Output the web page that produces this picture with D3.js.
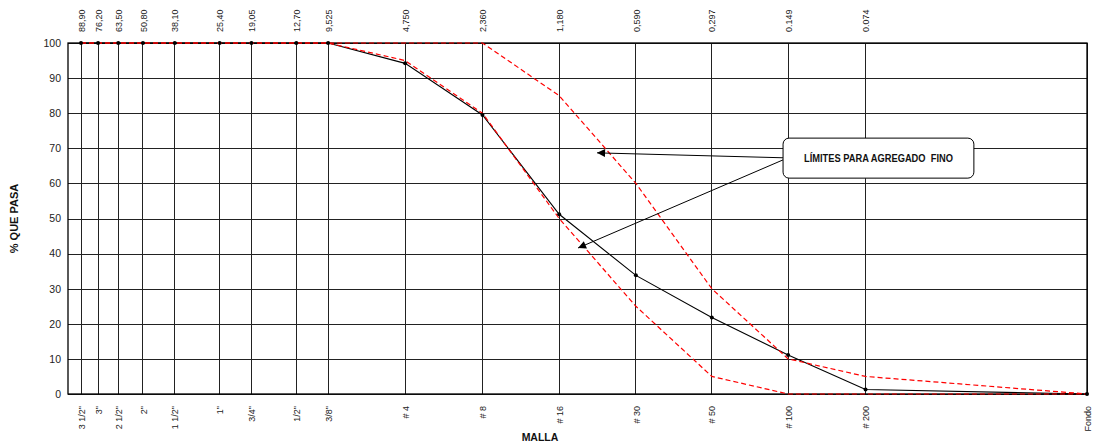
<!DOCTYPE html>
<html>
<head>
<meta charset="utf-8">
<script src="https://cdn.jsdelivr.net/npm/d3@7"></script>
<style>
  html, body { margin: 0; padding: 0; background: #fff; }
  svg { display: block; font-family: "Liberation Sans", Arial, sans-serif; }
</style>
</head>
<body>
<div id="chart"></div>
<script>
// ---- Data ----
// Sieve openings (mm); "Fondo" (pan) placed at the conventional 0.01 position
const sieveSizes = [88.9, 76.2, 63.5, 50.8, 38.1, 25.4, 19.05, 12.7, 9.525, 4.75, 2.36, 1.18, 0.59, 0.297, 0.149, 0.074, 0.01];
const topLabels = ["88,90", "76,20", "63,50", "50,80", "38,10", "25,40", "19,05", "12,70", "9,525", "4,750", "2,360", "1,180", "0,590", "0,297", "0.149", "0.074", ""];
const sieveNames = ["3 1/2\"", "3\"", "2 1/2\"", "2\"", "1 1/2\"", "1\"", "3/4\"", "1/2\"", "3/8\"", "# 4", "# 8", "# 16", "# 30", "# 50", "# 100", "# 200", "Fondo"];
const samplePassing = [100, 100, 100, 100, 100, 100, 100, 100, 100, 94.2, 79.5, 51.2, 33.8, 21.8, 11.1, 1.3, 0];
const upperLimit = [100, 100, 100, 100, 100, 100, 100, 100, 100, 100, 100, 85, 60, 30, 10, 5, 0];
const lowerLimit = [100, 100, 100, 100, 100, 100, 100, 100, 100, 95, 80, 50, 25, 5, 0, 0, 0];
const yTicks = [0, 10, 20, 30, 40, 50, 60, 70, 80, 90, 100];
const annotationText = "LÍMITES PARA AGREGADO  FINO";
// annotation anchors in data coordinates: [sieve size, % passing]
const annotationBox = [[0.156, 72.9], [0.0278, 61.5]];
const arrowTips = [[0.838, 68.7], [0.995, 41.6]];
const arrowStarts = [[0.156, 67.3], [0.156, 66.7]];

// ---- Layout ----
const W = 1094, H = 446;
const m = { left: 68, right: 7, top: 43, bottom: 52 };
const iw = W - m.left - m.right, ih = H - m.top - m.bottom;

const svg = d3.select("#chart").append("svg").attr("width", W).attr("height", H);
const g = svg.append("g").attr("transform", `translate(${m.left},${m.top})`);

const x = d3.scaleLog().domain([100, 0.01]).range([0, iw]);
const y = d3.scaleLinear().domain([0, 100]).range([ih, 0]);

// Horizontal grid + y labels
const yAxis = g.append("g")
  .call(d3.axisLeft(y).tickValues(yTicks).tickSize(-iw).tickPadding(7));
yAxis.select(".domain").remove();
yAxis.selectAll("line").attr("stroke", "#222").attr("shape-rendering", "crispEdges");
yAxis.selectAll("text").attr("font-size", "10.5px").attr("fill", "#222")
  .attr("font-family", "'Liberation Sans', Arial, sans-serif");

// Vertical grid lines
g.append("g").selectAll("line").data(sieveSizes).join("line")
  .attr("x1", d => x(d)).attr("x2", d => x(d))
  .attr("y1", 0).attr("y2", ih)
  .attr("stroke", "#222")
  .attr("stroke-width", (d, i) => i === 10 ? 1.6 : 1)
  .attr("shape-rendering", "crispEdges");

// Frame
g.append("rect").attr("x", 0).attr("y", 0).attr("width", iw).attr("height", ih)
  .attr("fill", "none").attr("stroke", "#000").attr("stroke-width", 1.3);

// Top axis labels (sizes)
const topAxis = g.append("g")
  .call(d3.axisTop(x).tickValues(sieveSizes).tickFormat((d, i) => topLabels[i]).tickSize(0));
topAxis.select(".domain").remove();
topAxis.selectAll("text")
  .attr("transform", "rotate(-90)")
  .attr("x", 11).attr("y", 0).attr("dy", "0.35em")
  .style("text-anchor", "start")
  .attr("font-size", "9px").attr("fill", "#222")
  .attr("font-family", "'Liberation Sans', Arial, sans-serif");

// Bottom axis labels (sieve names)
const botAxis = g.append("g").attr("transform", `translate(0,${ih})`)
  .call(d3.axisBottom(x).tickValues(sieveSizes).tickFormat((d, i) => sieveNames[i]).tickSize(0));
botAxis.select(".domain").remove();
botAxis.selectAll("text")
  .attr("transform", "rotate(-90)")
  .attr("x", -12).attr("y", 0).attr("dy", "0.35em")
  .style("text-anchor", "end")
  .attr("font-size", "9px").attr("fill", "#222")
  .attr("font-family", "'Liberation Sans', Arial, sans-serif");

// Lines
const lineGen = vals => d3.line().x((d, i) => x(sieveSizes[i])).y(d => y(d))(vals);

g.append("path").attr("d", lineGen(samplePassing))
  .attr("fill", "none").attr("stroke", "#000").attr("stroke-width", 1.1);

g.append("path").attr("d", lineGen(upperLimit))
  .attr("fill", "none").attr("stroke", "#ff0000").attr("stroke-width", 1.2)
  .attr("stroke-dasharray", "5,3");
g.append("path").attr("d", lineGen(lowerLimit))
  .attr("fill", "none").attr("stroke", "#ff0000").attr("stroke-width", 1.2)
  .attr("stroke-dasharray", "5,3");

g.append("g").selectAll("circle").data(samplePassing).join("circle")
  .attr("cx", (d, i) => x(sieveSizes[i])).attr("cy", d => y(d))
  .attr("r", 2).attr("fill", "#000");

// Annotation
svg.append("defs").append("marker")
  .attr("id", "arr").attr("viewBox", "0 0 10 10").attr("refX", 10).attr("refY", 5)
  .attr("markerWidth", 10).attr("markerHeight", 8).attr("markerUnits", "userSpaceOnUse")
  .attr("orient", "auto")
  .append("path").attr("d", "M0,0 L10,5 L0,10 Z").attr("fill", "#000");

g.append("g").selectAll("line").data(arrowTips).join("line")
  .attr("x1", (d, i) => x(arrowStarts[i][0])).attr("y1", (d, i) => y(arrowStarts[i][1]))
  .attr("x2", d => x(d[0])).attr("y2", d => y(d[1]))
  .attr("stroke", "#000").attr("stroke-width", 1)
  .attr("marker-end", "url(#arr)");

const bx0 = x(annotationBox[0][0]), bx1 = x(annotationBox[1][0]);
const by0 = y(annotationBox[0][1]), by1 = y(annotationBox[1][1]);
g.append("rect")
  .attr("x", bx0).attr("y", by0).attr("width", bx1 - bx0).attr("height", by1 - by0)
  .attr("rx", 6).attr("ry", 6)
  .attr("fill", "#fff").attr("stroke", "#000").attr("stroke-width", 1);
g.append("text")
  .attr("x", (bx0 + bx1) / 2).attr("y", (by0 + by1) / 2).attr("dy", "0.35em")
  .attr("text-anchor", "middle")
  .attr("font-size", "10px").attr("font-weight", "bold").attr("fill", "#111")
  .attr("textLength", 149).attr("lengthAdjust", "spacingAndGlyphs")
  .style("white-space", "pre")
  .text(annotationText);

// Axis titles
svg.append("text")
  .attr("transform", `translate(18,${m.top + ih / 2}) rotate(-90)`)
  .attr("text-anchor", "middle").attr("font-size", "11px").attr("font-weight", "bold")
  .attr("fill", "#111")
  .text("% QUE PASA");
svg.append("text")
  .attr("x", 540).attr("y", 441)
  .attr("text-anchor", "middle").attr("font-size", "10.5px").attr("font-weight", "bold")
  .attr("fill", "#111")
  .text("MALLA");
</script>
</body>
</html>
